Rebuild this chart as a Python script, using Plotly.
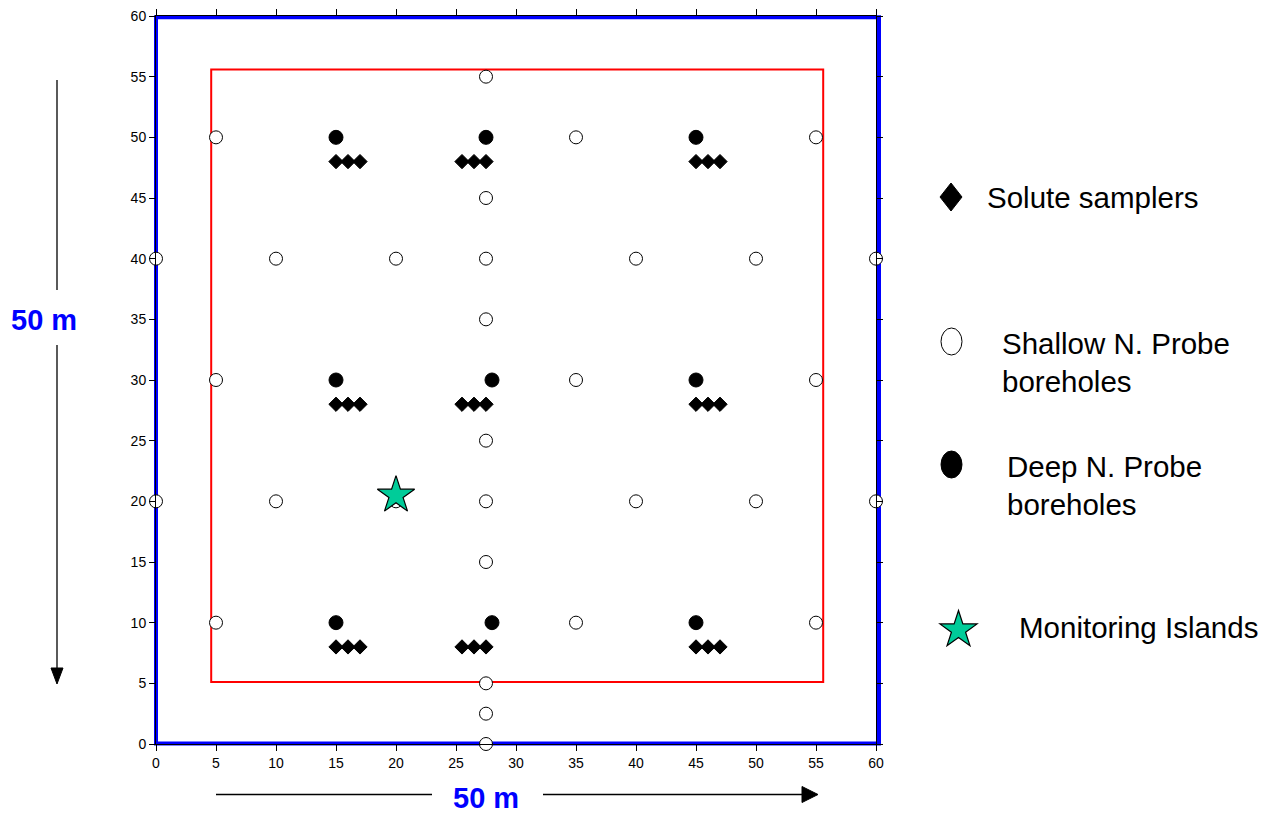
import math
import plotly.graph_objects as go

# ---------------- data ----------------
shallow_x = [27.5, 5, 35, 55, 27.5, 0, 10, 20, 27.5, 40, 50, 60, 27.5, 5, 35, 55, 27.5,
             0, 10, 20, 27.5, 40, 50, 60, 27.5, 5, 35, 55, 27.5, 27.5, 27.5]
shallow_y = [55, 50, 50, 50, 45, 40, 40, 40, 40, 40, 40, 40, 35, 30, 30, 30, 25,
             20, 20, 20, 20, 20, 20, 20, 15, 10, 10, 10, 5, 2.5, 0]

deep_x = [15, 27.5, 45, 15, 28, 45, 15, 28, 45]
deep_y = [50, 50, 50, 30, 30, 30, 10, 10, 10]

solute_x = [15, 16, 17, 25.5, 26.5, 27.5, 45, 46, 47] * 3
solute_y = [48] * 9 + [28] * 9 + [8] * 9

island_x = [20]
island_y = [20.5]

red_box = dict(x0=4.6, x1=55.6, y0=5.1, y1=55.6)
blue_box = dict(x0=0, x1=60.25, y0=0.05, y1=59.9)

x_ticks = list(range(0, 61, 5))
y_ticks = list(range(0, 61, 5))

legend_labels = ["Solute samplers", "Shallow N. Probe<br>boreholes",
                 "Deep N. Probe<br>boreholes", "Monitoring Islands"]

# ---------------- layout geometry ----------------
OFF = 8                       # browser body margin
FW, FH = 1270 - OFF, 813 - OFF
L, T, W, H = 156 - OFF, 16 - OFF, 720, 728
FONT = "Arial, Liberation Sans, sans-serif"
STAR_COLOR = "#00CC99"


def px(x):
    """screen pixel x -> paper"""
    return (x - OFF - L) / W


def py(y):
    """screen pixel y -> paper"""
    return (T + H - (y - OFF)) / H


def dx(v):
    return (v - 0) / 60


def dy(v):
    return (v - 0) / 60


fig = go.Figure()

fig.add_trace(go.Scatter(x=solute_x, y=solute_y, mode="markers", cliponaxis=False,
                         marker=dict(symbol="diamond", size=11, color="black",
                                     line=dict(color="black", width=1))))
fig.add_trace(go.Scatter(x=shallow_x, y=shallow_y, mode="markers", cliponaxis=False,
                         marker=dict(symbol="circle", size=13, color="white",
                                     line=dict(color="black", width=1))))
fig.add_trace(go.Scatter(x=deep_x, y=deep_y, mode="markers", cliponaxis=False,
                         marker=dict(symbol="circle", size=14, color="black",
                                     line=dict(color="black", width=1))))
fig.add_trace(go.Scatter(x=island_x, y=island_y, mode="markers", cliponaxis=False,
                         marker=dict(symbol="star", size=28, color=STAR_COLOR,
                                     line=dict(color="black", width=1.2))))

shapes = []
# blue frame
shapes.append(dict(type="rect", xref="paper", yref="paper",
                   x0=dx(blue_box["x0"]), x1=dx(blue_box["x1"]),
                   y0=dy(blue_box["y0"]), y1=dy(blue_box["y1"]),
                   line=dict(color="#0000FF", width=4), layer="below"))
# red frame
shapes.append(dict(type="rect", xref="x", yref="y", **red_box,
                   line=dict(color="#FF0000", width=2), layer="below"))

# vertical arrow (left)
shapes.append(dict(type="line", xref="paper", yref="paper",
                   x0=px(57), x1=px(57), y0=py(80), y1=py(290),
                   line=dict(color="black", width=1.3)))
shapes.append(dict(type="line", xref="paper", yref="paper",
                   x0=px(57), x1=px(57), y0=py(345), y1=py(672),
                   line=dict(color="black", width=1.3)))
shapes.append(dict(type="path", xref="paper", yref="paper",
                   path=f"M {px(51)},{py(668)} L {px(63)},{py(668)} L {px(57)},{py(684)} Z",
                   fillcolor="black", line=dict(color="black", width=1)))
# horizontal arrow (bottom)
shapes.append(dict(type="line", xref="paper", yref="paper",
                   x0=px(216), x1=px(432), y0=py(794.5), y1=py(794.5),
                   line=dict(color="black", width=1.3)))
shapes.append(dict(type="line", xref="paper", yref="paper",
                   x0=px(543), x1=px(805), y0=py(794.5), y1=py(794.5),
                   line=dict(color="black", width=1.3)))
shapes.append(dict(type="path", xref="paper", yref="paper",
                   path=f"M {px(802)},{py(786.5)} L {px(802)},{py(802.5)} L {px(818)},{py(794.5)} Z",
                   fillcolor="black", line=dict(color="black", width=1)))

# legend glyphs
shapes.append(dict(type="path", xref="paper", yref="paper",
                   path=(f"M {px(951)},{py(183)} L {px(962)},{py(197)} "
                         f"L {px(951)},{py(211)} L {px(940)},{py(197)} Z"),
                   fillcolor="black", line=dict(color="black", width=1)))
shapes.append(dict(type="circle", xref="paper", yref="paper",
                   x0=px(941), x1=px(962), y0=py(328), y1=py(355),
                   fillcolor="white", line=dict(color="black", width=1)))
shapes.append(dict(type="circle", xref="paper", yref="paper",
                   x0=px(941), x1=px(962), y0=py(451), y1=py(478),
                   fillcolor="black", line=dict(color="black", width=1)))
cx, cy, R = 958.5, 630, 19.5
r_in = R * 0.382
pts = []
for i in range(10):
    ang = -math.pi / 2 + i * math.pi / 5
    rad = R if i % 2 == 0 else r_in
    pts.append((cx + rad * math.cos(ang), cy + rad * math.sin(ang)))
path = "M " + " L ".join(f"{px(a)},{py(b)}" for a, b in pts) + " Z"
shapes.append(dict(type="path", xref="paper", yref="paper", path=path,
                   fillcolor=STAR_COLOR, line=dict(color="black", width=1.2)))

annotations = []
leg_pos = [(985, 197), (1000, 362), (1005, 486), (1017, 627)]
for (lx, ly), txt in zip(leg_pos, legend_labels):
    annotations.append(dict(xref="paper", yref="paper", x=px(lx), y=py(ly),
                            xanchor="left", yanchor="middle", text=txt, showarrow=False,
                            align="left", font=dict(family=FONT, size=29.5, color="black")))
annotations.append(dict(xref="paper", yref="paper", x=px(44), y=py(320),
                        xanchor="center", yanchor="middle", text="<b>50 m</b>",
                        showarrow=False, font=dict(family=FONT, size=29, color="#0000FF")))
annotations.append(dict(xref="paper", yref="paper", x=px(486), y=py(798),
                        xanchor="center", yanchor="middle", text="<b>50 m</b>",
                        showarrow=False, font=dict(family=FONT, size=29, color="#0000FF")))

axis_common = dict(showgrid=False, zeroline=False, showline=True, linecolor="black",
                   linewidth=1, mirror="ticks", ticks="outside", ticklen=6,
                   tickcolor="black", tickwidth=1, automargin=False,
                   ticklabeloverflow="allow",
                   tickfont=dict(family=FONT, size=14, color="black"))

fig.update_layout(
    width=FW, height=FH, autosize=False,
    margin=dict(l=L, r=FW - L - W, t=T, b=FH - T - H, autoexpand=False),
    paper_bgcolor="white", plot_bgcolor="rgba(0,0,0,0)",
    showlegend=False,
    xaxis=dict(range=[0, 60], tickvals=x_ticks, **axis_common),
    yaxis=dict(range=[0, 60], tickvals=y_ticks, ticklabelstandoff=0, **axis_common),
    shapes=shapes, annotations=annotations,
)

fig.write_html("out.html")
